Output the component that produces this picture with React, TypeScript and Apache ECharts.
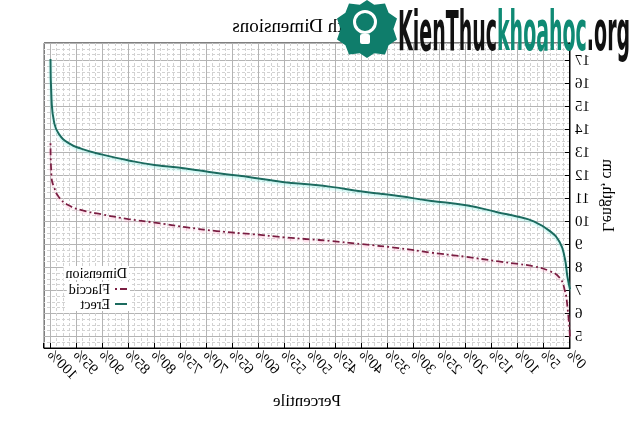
import React, { useEffect, useRef } from 'react';
import * as echarts from 'echarts';

const percentiles = [0, 0.5, 1, 2, 4, 7, 10, 14, 20, 27, 33, 40, 46, 50, 55, 61, 68, 74, 80, 85, 90, 94, 96.5, 98.4, 99.3, 99.8, 100];
const erect = [7.05, 7.6, 8.4, 9.1, 9.6, 10.0, 10.2, 10.4, 10.7, 10.9, 11.1, 11.3, 11.5, 11.6, 11.7, 11.9, 12.1, 12.3, 12.45, 12.65, 12.9, 13.15, 13.4, 13.8, 14.3, 15.3, 17.05];
const flaccid = [5.0, 6.3, 7.0, 7.55, 7.85, 8.05, 8.15, 8.27, 8.46, 8.65, 8.84, 9.01, 9.15, 9.22, 9.31, 9.44, 9.58, 9.75, 9.95, 10.1, 10.3, 10.49, 10.7, 11.06, 11.48, 11.91, 13.4];
const seriesNames = ['Flaccid', 'Erect'];
const titleText = 'Length Dimensions';
const legendTitle = 'Dimension';
const xName = 'Percentile';
const yName = 'Length, cm';

const SERIF = "'Liberation Serif', 'DejaVu Serif', serif";

function Watermark() {
  const textRef = useRef<HTMLSpanElement>(null);
  useEffect(() => {
    const el = textRef.current;
    if (el) {
      const w = el.offsetWidth;
      if (w > 0) el.style.transform = `scaleX(${232 / w})`;
    }
  }, []);
  return (
    <>
      <div style={{ position: 'absolute', left: 337, top: 0, width: 60, height: 58, background: '#0f7d6b', clipPath: 'polygon(50% 0%, 62% 8%, 80% 6%, 86% 22%, 100% 32%, 94% 50%, 100% 68%, 86% 78%, 80% 94%, 62% 92%, 50% 100%, 38% 92%, 20% 94%, 14% 78%, 0% 68%, 6% 50%, 0% 32%, 14% 22%, 20% 6%, 38% 8%)' }} />
      <div style={{ position: 'absolute', left: 353, top: 10, width: 24, height: 24, borderRadius: '50%', border: '3px solid #fff', boxSizing: 'border-box' }} />
      <div style={{ position: 'absolute', left: 360, top: 34, width: 10, height: 10, background: '#fff', borderRadius: 2 }} />
      <span ref={textRef} style={{ position: 'absolute', left: 398, top: 3, fontSize: 56, lineHeight: 1, fontWeight: 'bold', fontFamily: "'DejaVu Sans Condensed', 'DejaVu Sans', sans-serif", whiteSpace: 'nowrap', transformOrigin: 'left top', letterSpacing: 0 }}>
        <span style={{ color: '#111' }}>KienThuc</span>
        <span style={{ color: '#0f8a74' }}>khoahoc</span>
        <span style={{ color: '#111' }}>.org</span>
      </span>
    </>
  );
}

export default function App() {
  const ref = useRef<HTMLDivElement>(null);
  useEffect(() => {
    if (!ref.current) return;
    const chart = echarts.init(ref.current, undefined, { renderer: 'svg' });
    const dashedSplit = { show: true, lineStyle: { color: '#d2d2d2', type: [3, 2] as any, width: 1 } };
    const solidSplit = { show: true, lineStyle: { color: '#b4b4b4', width: 1 } };
    chart.setOption({
      animation: false,
      backgroundColor: '#fff',
      title: [
        { text: titleText, left: 327, textAlign: 'center', top: 16, padding: 0, textStyle: { fontFamily: SERIF, fontSize: 19, fontWeight: 'normal', color: '#000' } },
        { text: legendTitle, left: 505, top: 266, padding: [0, 2], backgroundColor: '#fff', textStyle: { fontFamily: SERIF, fontSize: 14, fontWeight: 'normal', color: '#000' } },
      ],
      grid: { left: 64, right: 44, top: 43, bottom: 75, show: true, borderColor: '#000', borderWidth: 1, backgroundColor: 'transparent' },
      legend: {
        data: seriesNames,
        orient: 'vertical',
        left: 504,
        top: 282,
        itemWidth: 12,
        itemHeight: 10,
        itemGap: 1,
        padding: [0, 2],
        backgroundColor: '#fff',
        itemStyle: { opacity: 0 },
        textStyle: { fontFamily: SERIF, fontSize: 14, color: '#000' },
      },
      xAxis: [
        { type: 'value', min: 0, max: 101.25, interval: 1.25, position: 'top', axisLine: { show: false }, axisTick: { show: false }, axisLabel: { show: false }, splitLine: dashedSplit },
        {
          type: 'value', min: 0, max: 101.25, splitNumber: 20, minInterval: 5, maxInterval: 5, position: 'bottom',
          axisLine: { show: true, lineStyle: { color: '#000' } },
          axisTick: { show: true, inside: true, length: 5, lineStyle: { color: '#000' } },
          axisLabel: { rotate: 45, margin: 4, color: '#000', fontFamily: SERIF, fontSize: 15, formatter: (v: number) => (Math.abs(v % 5) < 1e-6 ? `${v}%` : '') },
          splitLine: solidSplit,
          name: xName, nameLocation: 'middle', nameGap: 44, nameTextStyle: { fontFamily: SERIF, fontSize: 17, color: '#000' },
        },
      ],
      yAxis: [
        { type: 'value', min: 4.5, max: 17.75, interval: 0.25, position: 'right', axisLine: { show: false }, axisTick: { show: false }, axisLabel: { show: false }, splitLine: dashedSplit },
        {
          type: 'value', min: 4.5, max: 17.75, splitNumber: 13, minInterval: 1, maxInterval: 1, position: 'left',
          axisLine: { show: true, lineStyle: { color: '#000' } },
          axisTick: { show: true, inside: true, length: 5, lineStyle: { color: '#000' } },
          axisLabel: { margin: 5, color: '#000', fontFamily: SERIF, fontSize: 15, formatter: (v: number) => (Number.isInteger(v) ? String(v) : '') },
          splitLine: solidSplit,
          name: yName, nameLocation: 'middle', nameGap: 28, nameRotate: 90, nameTextStyle: { fontFamily: SERIF, fontSize: 16, color: '#000' },
        },
      ],
      series: [
        {
          name: seriesNames[0], type: 'line', xAxisIndex: 1, yAxisIndex: 1,
          data: percentiles.map((p, i) => [p, flaccid[i]]),
          symbol: 'none', smooth: 0.5, color: '#7a1e42',
          lineStyle: { color: '#7a1e42', width: 1.8, type: [7, 3, 2, 3], shadowColor: 'rgba(255,150,190,0.55)', shadowBlur: 2, shadowOffsetY: 1.5 },
          z: 3,
        },
        {
          name: seriesNames[1], type: 'line', xAxisIndex: 1, yAxisIndex: 1,
          data: percentiles.map((p, i) => [p, erect[i]]),
          symbol: 'none', smooth: 0.5, color: '#1c6b5e',
          lineStyle: { color: '#1c6b5e', width: 2, shadowColor: 'rgba(120,235,225,0.55)', shadowBlur: 2, shadowOffsetY: 1.5 },
          z: 3,
        },
      ],
    });
    return () => chart.dispose();
  }, []);
  return (
    <div style={{ position: 'fixed', left: 0, top: 0, width: 634, height: 423, overflow: 'hidden', background: '#fff' }}>
      <div ref={ref} style={{ position: 'absolute', left: 0, top: 0, width: 634, height: 423, transform: 'scaleX(-1)' }} />
      <Watermark />
    </div>
  );
}
